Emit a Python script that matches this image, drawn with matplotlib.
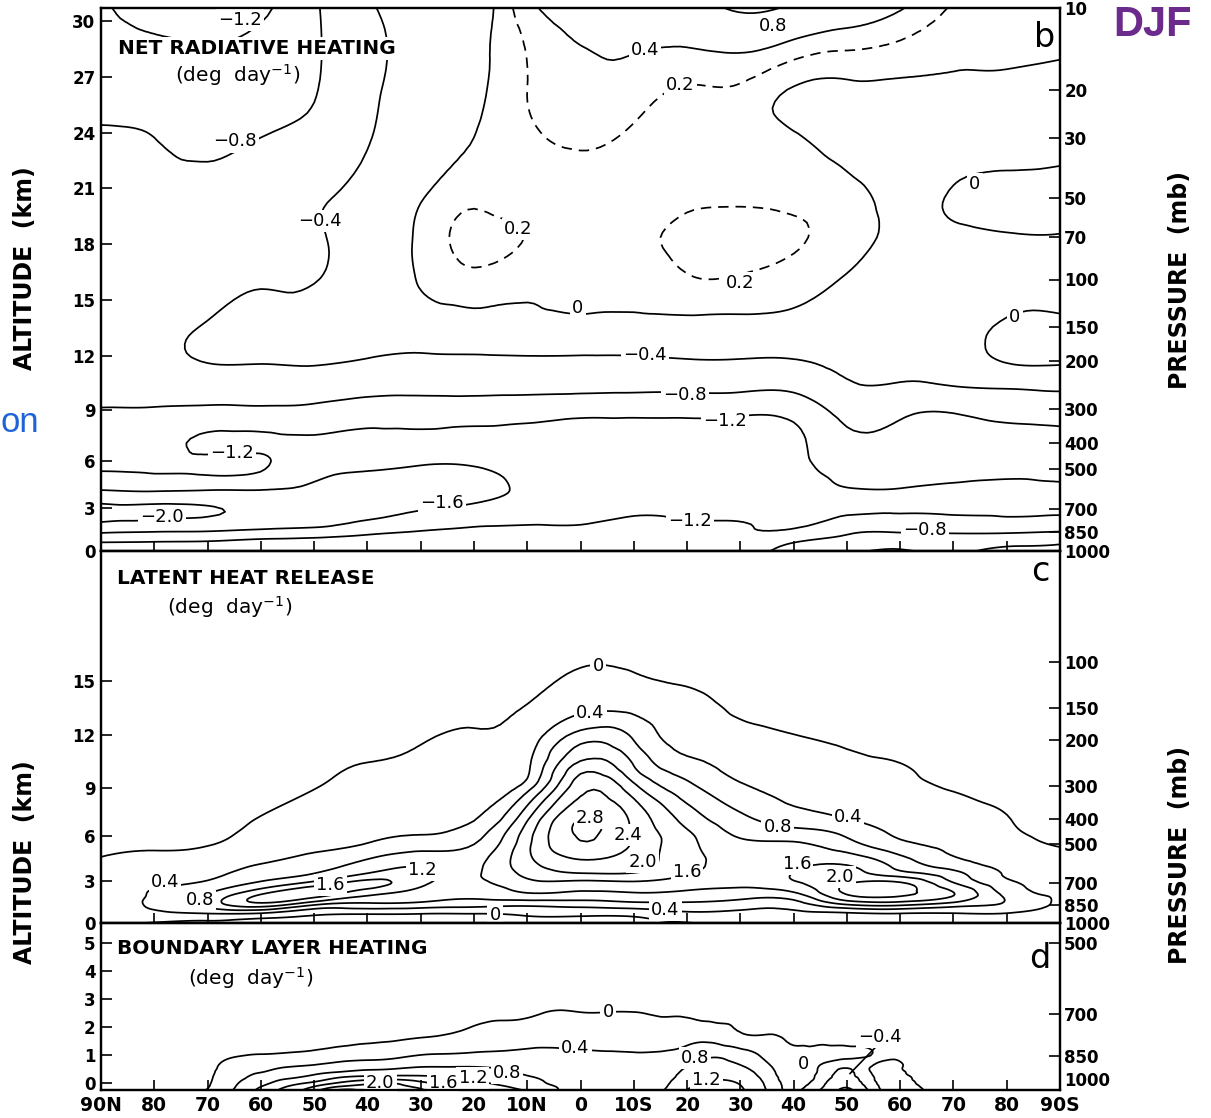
import numpy as np
import matplotlib
matplotlib.use("Agg")
import matplotlib.pyplot as plt
import matplotlib.tri as mtri

plt.rcParams["font.family"] = ["DejaVu Sans"]
plt.rcParams["mathtext.default"] = "regular"

# latitude grid, 90N -> 90S (south negative)
LAT = [90, 80, 70, 60, 50, 40, 30, 20, 10, 0, -10, -20, -30, -40, -50, -60, -70, -80, -90]
LAT_TICK_LABELS = ["90N", "80", "70", "60", "50", "40", "30", "20", "10N", "0",
                   "10S", "20", "30", "40", "50", "60", "70", "80", "90S"]

# ---- b: net radiative heating (deg/day), one row per pressure level
P_B = [1000, 925, 850, 700, 600, 500, 400, 300, 250, 200, 150, 100, 70, 50, 30, 20, 10]
NET_RAD = [
    [-0.95, -0.95, -0.95, -0.92, -0.90, -0.90, -0.90, -0.90, -0.90, -0.92, -0.90, -0.90, -0.90, -0.70, -0.50, -0.38, -0.42, -0.35, -0.30],
    [-1.22, -1.20, -1.18, -1.10, -1.05, -1.00, -1.00, -1.00, -1.00, -1.00, -1.00, -1.00, -1.05, -0.82, -0.70, -0.55, -0.55, -0.50, -0.45],
    [-1.65, -1.60, -1.58, -1.50, -1.45, -1.30, -1.18, -1.12, -1.10, -1.10, -1.05, -1.08, -1.15, -1.12, -0.85, -0.82, -0.85, -0.85, -0.79],
    [-2.10, -2.08, -2.03, -1.90, -1.75, -1.70, -1.62, -1.52, -1.45, -1.40, -1.30, -1.30, -1.30, -1.25, -1.28, -1.25, -1.25, -1.25, -1.25],
    [-1.62, -1.58, -1.62, -1.62, -1.65, -1.72, -1.75, -1.70, -1.55, -1.45, -1.45, -1.40, -1.40, -1.30, -1.22, -1.22, -1.25, -1.25, -1.25],
    [-1.18, -1.17, -1.15, -1.18, -1.50, -1.58, -1.65, -1.63, -1.50, -1.45, -1.40, -1.40, -1.40, -1.30, -1.10, -1.10, -1.12, -1.15, -1.10],
    [-1.05, -1.10, -1.25, -1.25, -1.28, -1.30, -1.32, -1.35, -1.35, -1.35, -1.35, -1.35, -1.35, -1.30, -0.90, -0.95, -1.00, -1.00, -0.95],
    [-0.81, -0.82, -0.86, -0.85, -0.88, -1.00, -1.00, -1.00, -1.02, -1.08, -1.08, -1.08, -1.10, -1.05, -0.65, -0.70, -0.75, -0.65, -0.60],
    [-0.70, -0.65, -0.60, -0.60, -0.60, -0.65, -0.68, -0.68, -0.70, -0.70, -0.72, -0.72, -0.72, -0.72, -0.45, -0.45, -0.42, -0.38, -0.35],
    [-0.60, -0.50, -0.39, -0.38, -0.37, -0.42, -0.45, -0.45, -0.45, -0.45, -0.45, -0.42, -0.42, -0.42, -0.33, -0.30, -0.20, 0.02, 0.05],
    [-0.55, -0.48, -0.38, -0.33, -0.30, -0.20, -0.20, -0.15, -0.12, -0.10, -0.10, -0.10, -0.10, -0.12, -0.20, -0.20, -0.15, 0.05, 0.08],
    [-0.60, -0.55, -0.50, -0.42, -0.41, -0.20, 0.02, 0.15, 0.05, 0.08, 0.08, 0.18, 0.18, 0.12, -0.02, -0.10, -0.15, -0.10, -0.12],
    [-0.65, -0.62, -0.60, -0.55, -0.43, -0.25, 0.05, 0.27, 0.19, 0.10, 0.14, 0.26, 0.28, 0.22, 0.10, -0.05, -0.05, -0.02, -0.02],
    [-0.70, -0.70, -0.70, -0.65, -0.45, -0.30, -0.02, 0.15, 0.08, 0.10, 0.08, 0.15, 0.17, 0.16, 0.08, -0.05, 0.02, 0.07, 0.10],
    [-0.75, -0.80, -0.88, -0.80, -0.70, -0.43, -0.15, 0.00, 0.15, 0.25, 0.15, 0.10, 0.10, 0.02, -0.10, -0.15, -0.10, -0.10, -0.10],
    [-1.00, -1.00, -1.02, -1.00, -0.82, -0.50, -0.20, -0.05, 0.20, 0.35, 0.30, 0.18, 0.17, -0.02, -0.05, -0.05, -0.05, -0.05, -0.08],
    [-1.19, -1.24, -1.30, -1.26, -0.85, -0.45, -0.25, -0.15, 0.33, 0.50, 0.55, 0.65, 0.85, 0.75, 0.60, 0.42, 0.18, 0.15, 0.15],
]
LEVELS_B = [-2.0, -1.6, -1.2, -0.8, -0.4, 0.0, 0.4, 0.8]
DASHED_B = [0.2]
LABELS_B = [("\u22121.2", 63.9, 11.1), ("\u22120.8", 64.8, 31), ("\u22120.4", 48.9, 61),
            ("0.2", 11.7, 65), ("0", 0.5, 127), ("0.4", -12.1, 14.3), ("0.2", -18.7, 19.2),
            ("0.8", -36.1, 11.6), ("0.2", -29.9, 103), ("0", -74, 44.5), ("0", -81.5, 138),
            ("\u22120.4", -12.1, 190), ("\u22120.8", -19.6, 267), ("\u22121.2", -27.1, 332),
            ("\u22121.2", 65.4, 436), ("\u22121.6", 26, 666), ("\u22122.0", 78.6, 750),
            ("\u22121.2", -20.6, 776), ("\u22120.8", -64.7, 837)]
ALT_TICKS_B = [0, 3, 6, 9, 12, 15, 18, 21, 24, 27, 30]
PRES_TICKS_B = [10, 20, 30, 50, 70, 100, 150, 200, 300, 400, 500, 700, 850, 1000]

# ---- c: latent heat release (deg/day), one profile per latitude (1000 mb upward)
P_C = [1000, 925, 850, 775, 700, 650, 600, 500, 450, 400, 300, 250, 200, 150, 100, 70, 50]
LATENT_PROFILES = [
    [0.05, 0.25, 0.30, 0.30, 0.25, 0.18, 0.08, -0.10, -0.15, -0.15, -0.20, -0.20, -0.20, -0.20, -0.20, -0.20, -0.20],
    [-0.02, 0.30, 0.45, 0.42, 0.35, 0.25, 0.15, -0.05, -0.12, -0.15, -0.20, -0.20, -0.20, -0.20, -0.20, -0.20, -0.20],
    [-0.05, 0.35, 0.95, 0.82, 0.45, 0.30, 0.22, -0.02, -0.10, -0.15, -0.20, -0.20, -0.20, -0.20, -0.20, -0.20, -0.20],
    [-0.10, 0.30, 1.45, 1.58, 0.85, 0.60, 0.42, 0.20, 0.10, 0.02, -0.15, -0.20, -0.20, -0.20, -0.20, -0.20, -0.20],
    [-0.15, 0.05, 0.85, 1.80, 1.30, 0.82, 0.62, 0.30, 0.24, 0.18, -0.02, -0.12, -0.20, -0.20, -0.20, -0.20, -0.20],
    [-0.15, 0.00, 0.70, 1.30, 1.70, 1.25, 0.95, 0.42, 0.35, 0.28, 0.12, 0.02, -0.10, -0.15, -0.20, -0.20, -0.20],
    [-0.20, -0.02, 0.65, 1.05, 1.30, 1.30, 1.15, 0.60, 0.38, 0.33, 0.20, 0.10, -0.02, -0.15, -0.20, -0.20, -0.20],
    [-0.20, -0.02, 0.55, 0.90, 1.10, 1.15, 1.10, 0.80, 0.60, 0.38, 0.25, 0.15, 0.05, -0.10, -0.20, -0.20, -0.20],
    [-0.20, 0.05, 0.50, 1.15, 1.50, 1.70, 1.85, 1.90, 1.80, 1.55, 0.60, 0.32, 0.20, 0.02, -0.15, -0.20, -0.20],
    [-0.20, 0.08, 0.55, 1.10, 1.50, 1.95, 2.25, 2.75, 2.85, 2.80, 2.25, 1.75, 1.10, 0.30, -0.02, -0.20, -0.20],
    [-0.15, 0.10, 0.65, 1.15, 1.55, 1.95, 2.15, 2.35, 2.35, 2.30, 1.70, 1.20, 0.80, 0.30, -0.05, -0.20, -0.20],
    [-0.02, 0.30, 0.70, 1.10, 1.40, 1.62, 1.75, 1.72, 1.65, 1.45, 0.90, 0.55, 0.25, 0.10, -0.10, -0.20, -0.20],
    [0.20, 0.30, 0.60, 1.00, 1.30, 1.38, 1.40, 1.30, 1.10, 0.90, 0.45, 0.25, 0.12, -0.05, -0.15, -0.20, -0.20],
    [0.20, 0.30, 0.60, 1.10, 1.55, 1.62, 1.50, 1.25, 0.95, 0.60, 0.25, 0.15, 0.03, -0.12, -0.20, -0.20, -0.20],
    [0.15, 0.30, 1.20, 2.02, 1.95, 1.75, 1.60, 0.95, 0.70, 0.41, 0.15, 0.06, -0.03, -0.15, -0.20, -0.20, -0.20],
    [0.10, 0.35, 1.30, 2.10, 2.02, 1.40, 1.05, 0.50, 0.32, 0.20, 0.06, 0.01, -0.08, -0.15, -0.20, -0.20, -0.20],
    [0.05, 0.35, 1.00, 1.62, 1.20, 0.95, 0.60, 0.30, 0.20, 0.12, -0.02, -0.10, -0.15, -0.20, -0.20, -0.20, -0.20],
    [0.05, 0.35, 0.75, 0.70, 0.48, 0.36, 0.28, 0.12, 0.05, 0.01, -0.10, -0.15, -0.20, -0.20, -0.20, -0.20, -0.20],
    [0.05, 0.25, 0.30, 0.30, 0.25, 0.20, 0.15, -0.02, -0.08, -0.12, -0.20, -0.20, -0.20, -0.20, -0.20, -0.20, -0.20],
]
LEVELS_C = [0.0, 0.4, 0.8, 1.2, 1.6, 2.0, 2.4, 2.8]
LABELS_C = [("0.4", 78, 697), ("0.8", 71.4, 816), ("1.6", 47, 715), ("1.2", 29.6, 627),
            ("0", -3.3, 104), ("0.4", -1.8, 157), ("2.8", -1.8, 396), ("2.4", -8.9, 460),
            ("2.0", -11.7, 584), ("1.6", -20, 638), ("0.8", -37, 429), ("0.4", -50.2, 393),
            ("1.6", -40.6, 594), ("2.0", -48.7, 666), ("0", 16, 932), ("0.4", -15.9, 891)]
ALT_TICKS_C = [0, 3, 6, 9, 12, 15]
PRES_TICKS_C = [100, 150, 200, 300, 400, 500, 700, 850, 1000]

# ---- d: boundary layer heating (deg/day), one profile per latitude
LAT_D = [90, 80, 70, 65, 60, 55, 50, 45, 40, 35, 30, 25, 20, 15, 10, 5, 0, -5, -10, -15,
         -20, -25, -30, -35, -40, -45, -50, -55, -60, -65, -70, -80, -90]
P_D = [1000, 985, 970, 950, 925, 900, 850, 775, 700, 600, 450]
BOUNDARY_PROFILES = [
    [-0.30, -0.25, -0.20, -0.15, -0.10, -0.10, -0.10, -0.10, -0.10, -0.10, -0.10],
    [-0.20, -0.18, -0.15, -0.12, -0.10, -0.10, -0.10, -0.10, -0.10, -0.10, -0.10],
    [0.02, -0.02, -0.04, -0.06, -0.08, -0.10, -0.10, -0.10, -0.10, -0.10, -0.10],
    [0.42, 0.38, 0.35, 0.30, 0.24, 0.17, -0.02, -0.10, -0.12, -0.12, -0.12],
    [0.90, 0.80, 0.68, 0.55, 0.42, 0.30, 0.02, -0.10, -0.12, -0.12, -0.12],
    [1.35, 1.22, 1.05, 0.82, 0.55, 0.42, 0.05, -0.10, -0.12, -0.12, -0.12],
    [1.85, 1.62, 1.35, 1.00, 0.75, 0.50, 0.10, -0.10, -0.12, -0.12, -0.12],
    [2.45, 2.05, 1.70, 1.35, 0.90, 0.62, 0.20, -0.10, -0.12, -0.12, -0.12],
    [2.30, 2.15, 1.95, 1.50, 1.00, 0.70, 0.25, -0.08, -0.12, -0.12, -0.12],
    [2.30, 2.15, 2.02, 1.55, 1.05, 0.75, 0.30, -0.05, -0.10, -0.12, -0.12],
    [2.05, 1.90, 1.70, 1.45, 1.05, 0.82, 0.42, -0.02, -0.10, -0.12, -0.12],
    [1.80, 1.70, 1.55, 1.35, 1.00, 0.82, 0.45, 0.02, -0.08, -0.10, -0.12],
    [1.55, 1.45, 1.32, 1.15, 0.95, 0.82, 0.48, 0.10, -0.05, -0.10, -0.12],
    [1.35, 1.25, 1.15, 1.05, 0.90, 0.78, 0.50, 0.15, -0.03, -0.10, -0.12],
    [1.15, 1.05, 0.97, 0.88, 0.76, 0.70, 0.52, 0.20, -0.02, -0.10, -0.12],
    [0.85, 0.82, 0.75, 0.72, 0.68, 0.64, 0.50, 0.25, 0.02, -0.08, -0.12],
    [0.62, 0.62, 0.62, 0.60, 0.58, 0.55, 0.48, 0.22, 0.01, -0.08, -0.12],
    [0.60, 0.60, 0.60, 0.60, 0.58, 0.55, 0.45, 0.20, 0.01, -0.08, -0.12],
    [0.62, 0.62, 0.62, 0.60, 0.58, 0.54, 0.44, 0.20, 0.01, -0.08, -0.12],
    [0.75, 0.72, 0.70, 0.66, 0.62, 0.57, 0.45, 0.18, -0.01, -0.08, -0.12],
    [1.22, 1.12, 1.05, 0.98, 0.90, 0.82, 0.55, 0.25, -0.02, -0.10, -0.12],
    [1.42, 1.35, 1.28, 1.18, 1.05, 0.95, 0.75, 0.25, -0.08, -0.10, -0.12],
    [1.25, 1.22, 1.18, 1.10, 0.98, 0.86, 0.60, 0.05, -0.08, -0.10, -0.12],
    [0.78, 0.75, 0.72, 0.66, 0.58, 0.50, 0.30, 0.02, -0.08, -0.10, -0.12],
    [0.15, 0.18, 0.20, 0.20, 0.18, 0.14, 0.05, -0.05, -0.08, -0.10, -0.12],
    [-0.42, -0.32, -0.25, -0.15, -0.08, -0.03, 0.08, -0.05, -0.08, -0.10, -0.12],
    [-0.85, -0.78, -0.70, -0.60, -0.50, -0.38, 0.05, -0.10, -0.10, -0.10, -0.12],
    [-0.20, -0.14, -0.08, -0.02, 0.04, 0.06, -0.01, -0.08, -0.10, -0.10, -0.12],
    [0.15, 0.14, 0.12, 0.10, 0.06, 0.02, -0.05, -0.08, -0.10, -0.10, -0.12],
    [-0.02, -0.04, -0.06, -0.07, -0.08, -0.08, -0.09, -0.10, -0.10, -0.10, -0.12],
    [-0.10, -0.10, -0.10, -0.10, -0.10, -0.10, -0.10, -0.10, -0.10, -0.10, -0.12],
    [-0.10, -0.10, -0.10, -0.10, -0.10, -0.10, -0.10, -0.10, -0.10, -0.10, -0.12],
    [-0.10, -0.10, -0.10, -0.10, -0.10, -0.10, -0.10, -0.10, -0.10, -0.10, -0.12],
]
LEVELS_D = [-0.8, -0.4, 0.0, 0.4, 0.8, 1.2, 1.6, 2.0, 2.4]
LABELS_D = [("0", -5.2, 693), ("0.4", 1, 821), ("0.8", 13.8, 921), ("1.2", 20.2, 947),
            ("1.6", 25.8, 968), ("2.0", 37.6, 968), ("0.8", -21.5, 860), ("1.2", -23.7, 955),
            ("0", -41.8, 884), ("\u22120.4", -56.2, 778)]
ALT_TICKS_D = [0, 1, 2, 3, 4, 5]
PRES_TICKS_D = [500, 700, 850, 1000]


def logp(p):
    return np.log(1000.0 / np.asarray(p, float))


def alt_to_logp(z_km):
    # standard atmosphere height -> log-pressure coordinate
    z = np.asarray(z_km, float) * 1000.0
    p_trop = 1000.0 * (1 - 2.25577e-5 * np.clip(z, 0, 11000)) ** 5.25588
    p = np.where(z <= 11000, p_trop, p_trop * np.exp(-(z - 11000) / 6341.6))
    return logp(p)


def smooth_field(lats, pres, values, px_lat, px_u):
    # grid -> triangles, refined with matplotlib's cubic interpolator
    lats = np.asarray(lats, float)
    u = logp(pres)
    la, uu = np.meshgrid(lats, u)
    ny, nx = la.shape
    idx = np.arange(ny * nx).reshape(ny, nx)
    a, b = idx[:-1, :-1].ravel(), idx[:-1, 1:].ravel()
    c, d = idx[1:, :-1].ravel(), idx[1:, 1:].ravel()
    tris = np.vstack([np.column_stack([a, b, d]), np.column_stack([a, d, c])])
    tri = mtri.Triangulation((la * px_lat).ravel(), (uu * px_u).ravel(), tris)
    fine, z = mtri.UniformTriRefiner(tri).refine_field(np.asarray(values, float).ravel(), subdiv=3)
    return mtri.Triangulation(fine.x / px_lat, fine.y / px_u, fine.triangles), z


def draw_panel(ax, lats, pres, values, levels, dashed, px_u, labels):
    tri, z = smooth_field(lats, pres, values, 5.33, px_u)
    ax.tricontour(tri, z, levels=levels, colors="black", linewidths=1.25, linestyles="solid")
    if dashed:
        ax.tricontour(tri, z, levels=dashed, colors="black", linewidths=1.25,
                      linestyles=[(0, (6, 4))])
    for txt, la, p in labels:
        ax.text(la, logp(p), txt, fontsize=13, ha="center", va="center", zorder=5,
                bbox=dict(boxstyle="square,pad=0.12", fc="white", ec="none"))


def style_axes(ax, top_u, alt_ticks, alt_u, pres_ticks, show_x):
    ax.set_xlim(90, -90)
    ax.set_ylim(0, top_u)
    ax.set_xticks(LAT)
    ax.set_xticklabels(LAT_TICK_LABELS if show_x else [])
    ax.tick_params(axis="x", direction="in", length=7, width=1.2, labelsize=13.5, pad=4)
    for t in ax.get_xticklabels():
        t.set_fontweight("bold")
    ax.set_yticks(alt_u)
    ax.set_yticklabels([str(v) for v in alt_ticks], fontweight="bold")
    ax.tick_params(axis="y", direction="in", length=8, width=1.2, labelsize=12, pad=4)
    for s in ax.spines.values():
        s.set_linewidth(1.6)
    ax2 = ax.twinx()
    ax2.set_ylim(0, top_u)
    ax2.set_yticks(logp(pres_ticks))
    ax2.set_yticklabels([str(v) for v in pres_ticks], fontweight="bold")
    ax2.tick_params(axis="y", direction="in", length=8, width=1.2, labelsize=12, pad=3)
    for s in ax2.spines.values():
        s.set_linewidth(1.6)
    return ax2


fig = plt.figure(figsize=(12.11, 11.18), dpi=100)
left, width = 101 / 1211, 959 / 1211
ax_b = fig.add_axes([left, 1 - 551 / 1118, width, 543 / 1118])
ax_c = fig.add_axes([left, 1 - 923 / 1118, width, 372 / 1118])
ax_d = fig.add_axes([left, 1 - 1090 / 1118, width, 167 / 1118])

# b
draw_panel(ax_b, LAT, P_B, NET_RAD, LEVELS_B, DASHED_B, 117.9, LABELS_B)
style_axes(ax_b, logp(10), ALT_TICKS_B, alt_to_logp(ALT_TICKS_B), PRES_TICKS_B, False)

# c
draw_panel(ax_c, LAT, P_C, np.array(LATENT_PROFILES).T, LEVELS_C, None, 113.4, LABELS_C)
style_axes(ax_c, 3.28, ALT_TICKS_C, alt_to_logp(ALT_TICKS_C), PRES_TICKS_C, False)

# d (km labels drawn evenly between the surface and 500 mb, as on the original)
draw_panel(ax_d, LAT_D, P_D, np.array(BOUNDARY_PROFILES).T, LEVELS_D, None, 212.0, LABELS_D)
ax_d2 = style_axes(ax_d, 0.788, ALT_TICKS_D, 0.033 + np.array(ALT_TICKS_D) * 0.132,
                   PRES_TICKS_D, True)
ax_d2.get_yticklabels()[-1].set_va("bottom")
ax_d.plot([-56.2, -50.6], [logp(800), logp(925)], color="black", lw=1.2)

# panel titles
titles = [(ax_b, "NET RADIATIVE HEATING", 0.0177, 0.926, 0.077, 0.877, "b", 0.984, 0.945),
          (ax_c, "LATENT HEAT RELEASE", 0.0167, 0.927, 0.069, 0.849, "c", 0.979, 0.944),
          (ax_d, "BOUNDARY LAYER HEATING", 0.0167, 0.85, 0.091, 0.67, "d", 0.979, 0.79)]
for ax, name, x1, y1, x2, y2, letter, x3, y3 in titles:
    ax.text(x1, y1, name, transform=ax.transAxes, fontsize=14.5, fontweight="bold",
            va="center", zorder=6, bbox=dict(boxstyle="square,pad=0.1", fc="white", ec="none"))
    ax.text(x2, y2, "(deg  day$^{-1}$)", transform=ax.transAxes, fontsize=14.5, va="center",
            zorder=6)
    ax.text(x3, y3, letter, transform=ax.transAxes, fontsize=24, ha="center", va="center")

for y in (1 - 268 / 1118, 1 - 862 / 1118):
    fig.text(25 / 1211, y, "ALTITUDE  (km)", rotation=90, fontsize=17, fontweight="bold",
             ha="center", va="center")
for y in (1 - 280 / 1118, 1 - 855 / 1118):
    fig.text(1180 / 1211, y, "PRESSURE  (mb)", rotation=90, fontsize=17, fontweight="bold",
             ha="center", va="center")

fig.text(1152 / 1211, 1 - 25 / 1118, "DJF", fontsize=30, fontweight="bold", color="#6b2a8c",
         family="Liberation Sans", ha="center", va="center")
fig.text(1 / 1211, 1 - 423 / 1118, "on", fontsize=25, color="#1f64d6",
         family="Liberation Sans", ha="left", va="center")

fig.savefig("out.png", dpi=100)
